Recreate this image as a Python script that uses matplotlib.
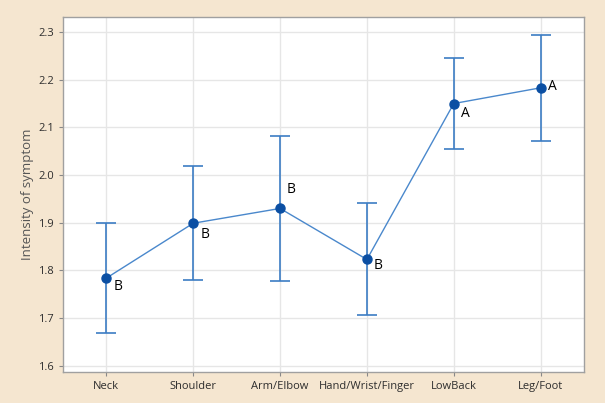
import matplotlib
matplotlib.use("Agg")
import matplotlib.pyplot as plt

categories = ["Neck", "Shoulder", "Arm/Elbow", "Hand/Wrist/Finger", "LowBack", "Leg/Foot"]
means = [1.784, 1.899, 1.930, 1.823, 2.150, 2.183]
upper = [1.900, 2.020, 2.082, 1.941, 2.246, 2.293]
lower = [1.668, 1.779, 1.778, 1.706, 2.054, 2.072]
groups = ["B", "B", "B", "B", "A", "A"]
yticks = [1.6, 1.7, 1.8, 1.9, 2.0, 2.1, 2.2, 2.3]

plt.rcParams['font.family'] = ['Open Sans', 'DejaVu Sans']

bg = "#F5E6D0"
fig = plt.figure(figsize=(6.05, 4.03), dpi=100, facecolor=bg)
ax = fig.add_axes([63/605, 1 - 372/403, (584-63)/605, (372-17)/403])
ax.set_facecolor("white")

x = list(range(len(categories)))
yerr = [[m - l for m, l in zip(means, lower)], [u - m for m, u in zip(means, upper)]]
ax.errorbar(x, means, yerr=yerr, fmt='none', ecolor="#3C7DC4", elinewidth=1.2,
            capsize=7.5, capthick=1.2, zorder=3)
ax.plot(x, means, color="#4A88CC", lw=1.0, zorder=4)
ax.plot(x, means, 'o', color="#0B4FA3", ms=6.5, zorder=5)

offsets = [(5, -6), (5, -8), (5, 14), (5, -4), (5, -7), (5, 1)]
for xi, m, g, (dx, dy) in zip(x, means, groups, offsets):
    ax.annotate(g, (xi, m), xytext=(dx, dy), textcoords="offset points",
                ha="left", va="center", fontsize=10, color="black", zorder=6)

ax.set_xlim(-0.5, 5.5)
ax.set_ylim(1.587, 2.3315)
ax.set_xticks(x)
ax.set_xticklabels(categories)
ax.set_yticks(yticks)
ax.set_yticklabels([f"{v:.1f}" for v in yticks])
ax.tick_params(axis='both', labelsize=8, length=3, width=0.8, direction='out',
               colors="#888888", labelcolor="#2E2E2E")
ax.grid(True, color="#E6E6E6", lw=1.0, zorder=0)
ax.set_axisbelow(True)
for s in ax.spines.values():
    s.set_color("#A0A0A0")
    s.set_linewidth(1.0)
ax.set_ylabel("Intensity of symptom", fontsize=9.5, color="#555555", labelpad=3)

fig.savefig("out.png", dpi=100, facecolor=bg)
